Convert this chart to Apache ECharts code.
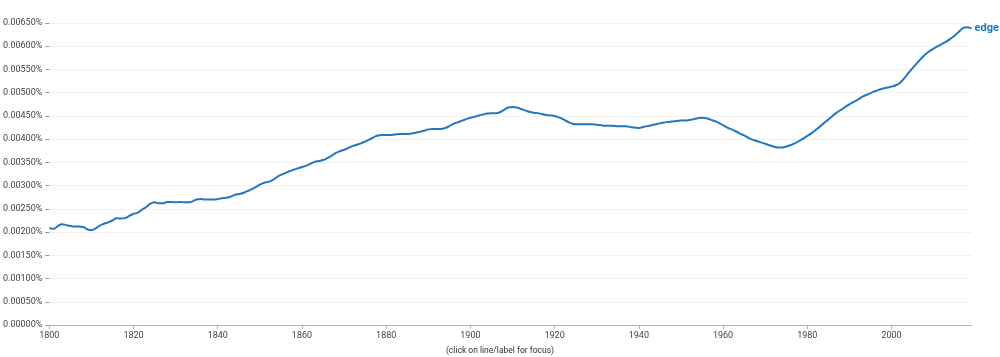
<!DOCTYPE html>
<html>
<head>
<meta charset="utf-8">
<script src="https://cdn.jsdelivr.net/npm/echarts@6/dist/echarts.min.js"></script>
<style>
html,body{margin:0;padding:0;background:#fff;}
#chart{width:1000px;height:357px;}
</style>
</head>
<body>
<div id="chart"></div>
<script>
var seriesName = 'edge';
var startYear = 1800;
var values = [
0.00209,0.00207,0.00213,0.00217,0.00215,0.00213,0.00212,0.00212,0.00211,0.00206,
0.00204,0.00208,0.00214,0.00218,0.00221,0.00225,0.00230,0.00229,0.00230,0.00235,
0.00239,0.00242,0.00248,0.00254,0.00261,0.00264,0.00262,0.00262,0.00265,0.00265,
0.00264,0.00265,0.00264,0.00264,0.00266,0.00270,0.00271,0.00270,0.00270,0.00270,
0.00271,0.00273,0.00274,0.00276,0.00280,0.00282,0.00284,0.00288,0.00292,0.00297,
0.00302,0.00306,0.00308,0.00312,0.00318,0.00323,0.00327,0.00331,0.00334,0.00337,
0.00340,0.00343,0.00347,0.00351,0.00353,0.00355,0.00359,0.00364,0.00370,0.00374,
0.00377,0.00381,0.00385,0.00388,0.00391,0.00395,0.00399,0.00404,0.00408,0.00409,
0.00409,0.00409,0.00410,0.00411,0.00411,0.00411,0.00412,0.00414,0.00416,0.00418,
0.00421,0.00422,0.00422,0.00422,0.00424,0.00428,0.00433,0.00436,0.00440,0.00443,
0.00446,0.00448,0.00451,0.00453,0.00455,0.00456,0.00456,0.00458,0.00463,0.00468,
0.00469,0.00468,0.00465,0.00462,0.00459,0.00457,0.00456,0.00454,0.00452,0.00451,
0.00450,0.00447,0.00443,0.00438,0.00434,0.00432,0.00432,0.00432,0.00432,0.00432,
0.00431,0.00430,0.00429,0.00429,0.00429,0.00428,0.00428,0.00428,0.00426,0.00425,
0.00424,0.00426,0.00428,0.00430,0.00432,0.00434,0.00436,0.00437,0.00438,0.00439,
0.00440,0.00440,0.00441,0.00443,0.00445,0.00446,0.00445,0.00442,0.00439,0.00435,
0.00430,0.00425,0.00421,0.00417,0.00412,0.00408,0.00403,0.00399,0.00396,0.00393,
0.00390,0.00387,0.00384,0.00382,0.00382,0.00384,0.00387,0.00391,0.00396,0.00401,
0.00407,0.00413,0.00420,0.00427,0.00435,0.00442,0.00450,0.00457,0.00463,0.00469,
0.00475,0.00480,0.00485,0.00491,0.00495,0.00499,0.00503,0.00506,0.00509,0.00511,
0.00513,0.00516,0.00521,0.00531,0.00542,0.00553,0.00563,0.00573,0.00582,0.00589,
0.00595,0.00600,0.00605,0.00610,0.00616,0.00623,0.00631,0.00639,0.00641,0.00638
];
var footnote = '(click on line/label for focus)';

var data = values.map(function (v, i) { return [startYear + i, v]; });
var blue = '#2277c0';
var chart = echarts.init(document.getElementById('chart'));
chart.setOption({
  animation: false,
  textStyle: { fontFamily: 'Roboto, sans-serif' },
  grid: { left: 47.5, right: 28.5, top: 23, bottom: 32, containLabel: false },
  xAxis: {
    type: 'value', min: 1800, max: 2019, interval: 20,
    axisLine: { lineStyle: { color: '#b3b3b3' } },
    axisTick: { show: true, length: 4, lineStyle: { color: '#b3b3b3' } },
    axisLabel: { color: '#444', fontSize: 9, margin: 6, showMaxLabel: false,
      formatter: function (v) { return String(v); } },
    splitLine: { show: false }
  },
  yAxis: {
    type: 'value', min: 0, max: 0.0065, interval: 0.0005,
    axisLine: { show: false },
    axisTick: { show: true, length: 4, lineStyle: { color: '#999' } },
    axisLabel: { color: '#444', fontSize: 9, margin: 7,
      formatter: function (v) { return v.toFixed(5) + '%'; } },
    splitLine: { lineStyle: { color: '#f1f1f1' } }
  },
  graphic: [{
    type: 'text', left: 'center', top: 346,
    style: { text: footnote, fill: '#333', font: '8.5px Roboto, sans-serif' }
  }],
  series: [{
    name: seriesName, type: 'line', data: data, smooth: true, showSymbol: false,
    lineStyle: { color: blue, width: 2 },
    itemStyle: { color: blue },
    endLabel: { show: true, formatter: seriesName, color: blue, fontSize: 11, fontWeight: 'bold', distance: 3 }
  }]
});
</script>
</body>
</html>
